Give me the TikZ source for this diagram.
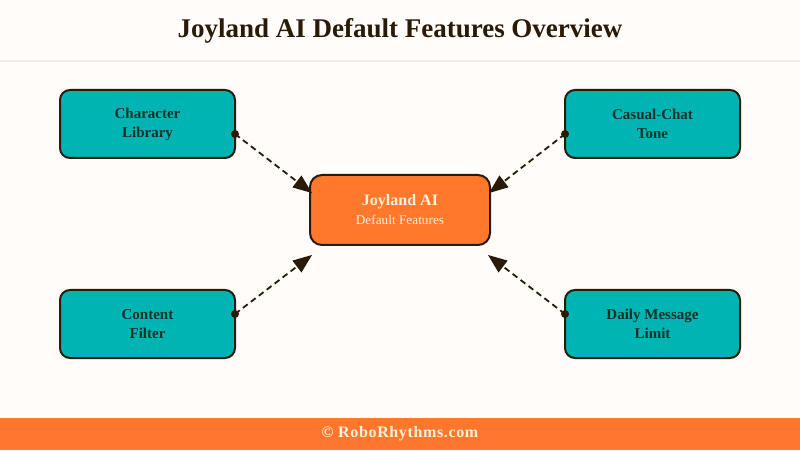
\documentclass[tikz,border=0pt]{standalone}
\usepackage{fontspec}
\setmainfont{Liberation Serif}
\newfontfamily\creditfont[LetterSpace=4]{Liberation Serif}
\usepackage{xcolor}
\usetikzlibrary{arrows.meta, positioning, calc}

\definecolor{pageBg}{HTML}{FFFCFA}
\definecolor{ruleGray}{HTML}{EEEBE9}
\definecolor{tealFill}{HTML}{00B4B4}
\definecolor{hubOrange}{HTML}{FF782B}
\definecolor{footOrange}{HTML}{FF772E}
\definecolor{edgeBrown}{HTML}{2A1A08}
\definecolor{tealText}{HTML}{17302A}
\definecolor{creamText}{HTML}{FFF0DA}

\begin{document}
\begin{tikzpicture}[
    x=1pt, y=1pt,
    font=\fontsize{15}{19}\selectfont\bfseries,
    feature/.style={rectangle, draw=edgeBrown, fill=tealFill, line width=2pt, outer sep=0pt, rounded corners=10pt, minimum width=175pt, minimum height=68pt, inner sep=0pt, align=center, text=tealText},
    hub/.style={rectangle, draw=edgeBrown, fill=hubOrange, line width=2pt, outer sep=0pt, rounded corners=12pt, minimum width=180pt, minimum height=70pt, inner sep=0pt, align=center, text=creamText, font=\fontsize{16}{19}\selectfont\bfseries},
    link/.style={draw=edgeBrown, line width=1.8pt, dash pattern=on 6pt off 4pt, arrows={-Triangle[length=19pt, width=15pt, sep=0pt, line width=0pt]}},
    dot/.style={fill=edgeBrown},
]
    \useasboundingbox (0,0) rectangle (800,450);
    \fill[pageBg] (0,0) rectangle (800,450);
    \draw[ruleGray, line width=2pt] (0,389) -- (800,389);
    \fill[footOrange] (0,0) rectangle (800,32);

    \node[font=\fontsize{27}{32}\selectfont\bfseries, text=edgeBrown] (title) at (400,419) {Joyland AI Default Features Overview};

    \node[hub] (core) at (400,240) {Joyland AI\\{\fontsize{13.3}{16}\selectfont\mdseries Default Features}};

    \node[feature, above left=17pt and 75pt of core] (library) {Character\\Library};
    \node[feature, above right=17pt and 75pt of core] (tone) {Casual-Chat\\Tone};
    \node[feature, below left=45pt and 75pt of core] (filter) {Content\\Filter};
    \node[feature, below right=45pt and 75pt of core] (limit) {Daily Message\\Limit};

    \coordinate (libOut) at ($(library.east)+(0,-10)$);
    \coordinate (toneOut) at ($(tone.west)+(0,-10)$);
    \coordinate (filterOut) at ($(filter.east)+(0,10)$);
    \coordinate (limitOut) at ($(limit.west)+(0,10)$);

    \draw[link] (libOut) -- ($(core.north west)+(2,-18)$);
    \draw[link] (toneOut) -- ($(core.north east)+(-1,-18)$);
    \draw[link] (filterOut) -- ($(core.south west)+(2,-10)$);
    \draw[link] (limitOut) -- ($(core.south east)+(-2,-10)$);

    \foreach \p in {libOut, toneOut, filterOut, limitOut}
        \fill[dot] (\p) circle (4pt);

    \node[text=creamText, font=\creditfont\fontsize{16}{19}\selectfont\bfseries] (credit) at (400,16) {© RoboRhythms.com};
\end{tikzpicture}
\end{document}
